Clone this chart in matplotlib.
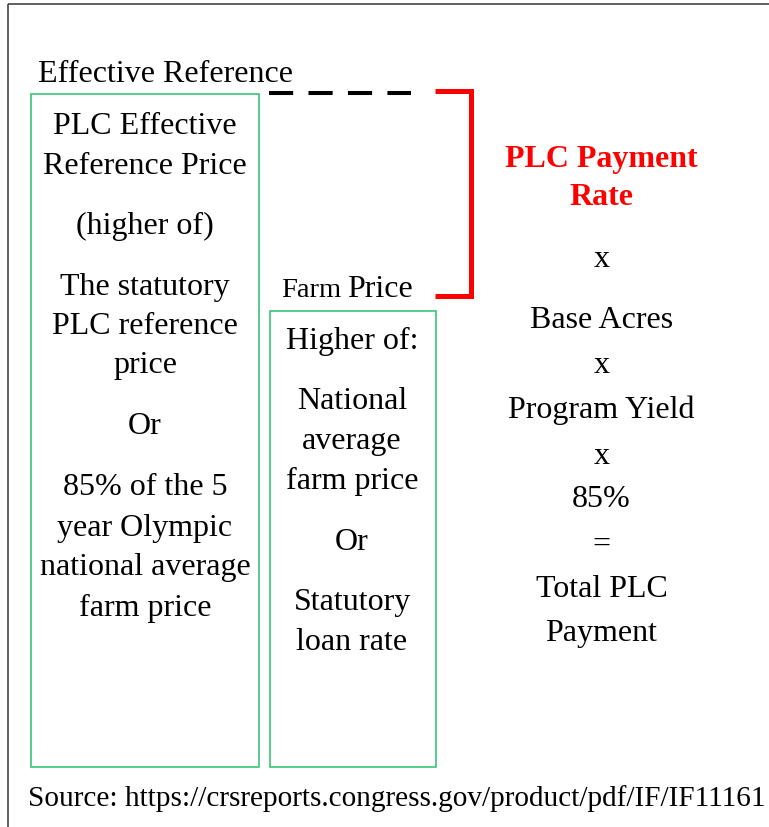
#!/usr/bin/env python3
# -*- coding: utf-8 -*-

import matplotlib
matplotlib.use('Agg')
import matplotlib.pyplot as plt
from matplotlib.patches import Rectangle

# text content of the diagram
header_left = "Effective Reference"
header_mid = ["Farm", "Price"]
left_lines = ["PLC Effective", "Reference Price", "(higher of)",
              "The statutory", "PLC reference", "price", "Or",
              "85% of the 5", "year Olympic", "national average", "farm price"]
mid_lines = ["Higher of:", "National", "average", "farm price", "Or",
             "Statutory", "loan rate"]
rate_lines = ["PLC Payment", "Rate"]
right_lines = ["x", "Base Acres", "x", "Program Yield", "x", "85%", "=",
               "Total PLC", "Payment"]
source = "Source: https://crsreports.congress.gov/product/pdf/IF/IF11161"

# layout (pixel coordinates, y grows downward)
W, H = 769, 828
left_base = [132, 172, 233, 294, 333, 372, 433, 494, 535, 574, 615]
mid_base = [348, 408, 448, 488, 549, 609, 649]
rate_base = [166, 204]
right_base = [266, 327, 372, 417, 463, 506, 551, 596, 640]
DY = 1.5

FONT = 'Liberation Serif'
FS = 23
GREEN = '#3cc378'


def main():
    fig = plt.figure(figsize=(W / 100, H / 100), dpi=100)
    ax = fig.add_axes([0, 0, 1, 1])
    ax.set_xlim(0, W)
    ax.set_ylim(H, 0)
    ax.axis('off')

    # outer frame (top and left only)
    ax.plot([8, W], [5, 5], color='#444444', lw=1.2, solid_capstyle='butt')
    ax.plot([8, 8], [5, H], color='#444444', lw=1.2, solid_capstyle='butt')

    # green boxes
    ax.add_patch(Rectangle((31, 95), 228, 673, fill=False, ec=GREEN, lw=1.2))
    ax.add_patch(Rectangle((270, 312), 166, 456, fill=False, ec=GREEN, lw=1.2))

    # dashed connector
    ax.plot([269, 411], [94, 94], color='black', lw=2.9,
            dashes=(6, 3.8), dash_capstyle='butt')

    # red bracket
    ax.plot([435, 470.5, 470.5, 435], [91.5, 91.5, 297, 297], color='#ff0000',
            lw=3.6, solid_joinstyle='miter', solid_capstyle='butt')

    txt = dict(family=FONT, fontsize=FS, color='black', va='baseline')

    ax.text(38, 81 + DY, header_left, ha='left', **txt)
    ax.text(281, 296 + DY, header_mid[0], ha='left', family=FONT,
            fontsize=20.5, va='baseline')
    ax.text(413, 296 + DY, header_mid[1], ha='right', **txt)

    for s, y in zip(left_lines, left_base):
        ax.text(145, y + DY, s, ha='center', **txt)
    for s, y in zip(mid_lines, mid_base):
        ax.text(352, y + DY, s, ha='center', **txt)
    for s, y in zip(rate_lines, rate_base):
        ax.text(601.5, y + DY, s, ha='center', family=FONT, fontsize=FS,
                fontweight='bold', color='#ff0000', va='baseline')
    for s, y in zip(right_lines, right_base):
        ax.text(601.5, y + DY, s, ha='center', **txt)

    ax.text(28, 806, source, ha='left', family=FONT, fontsize=21.1,
            va='baseline')

    fig.savefig('out.png', dpi=100)
    plt.close(fig)


if __name__ == '__main__':
    main()
